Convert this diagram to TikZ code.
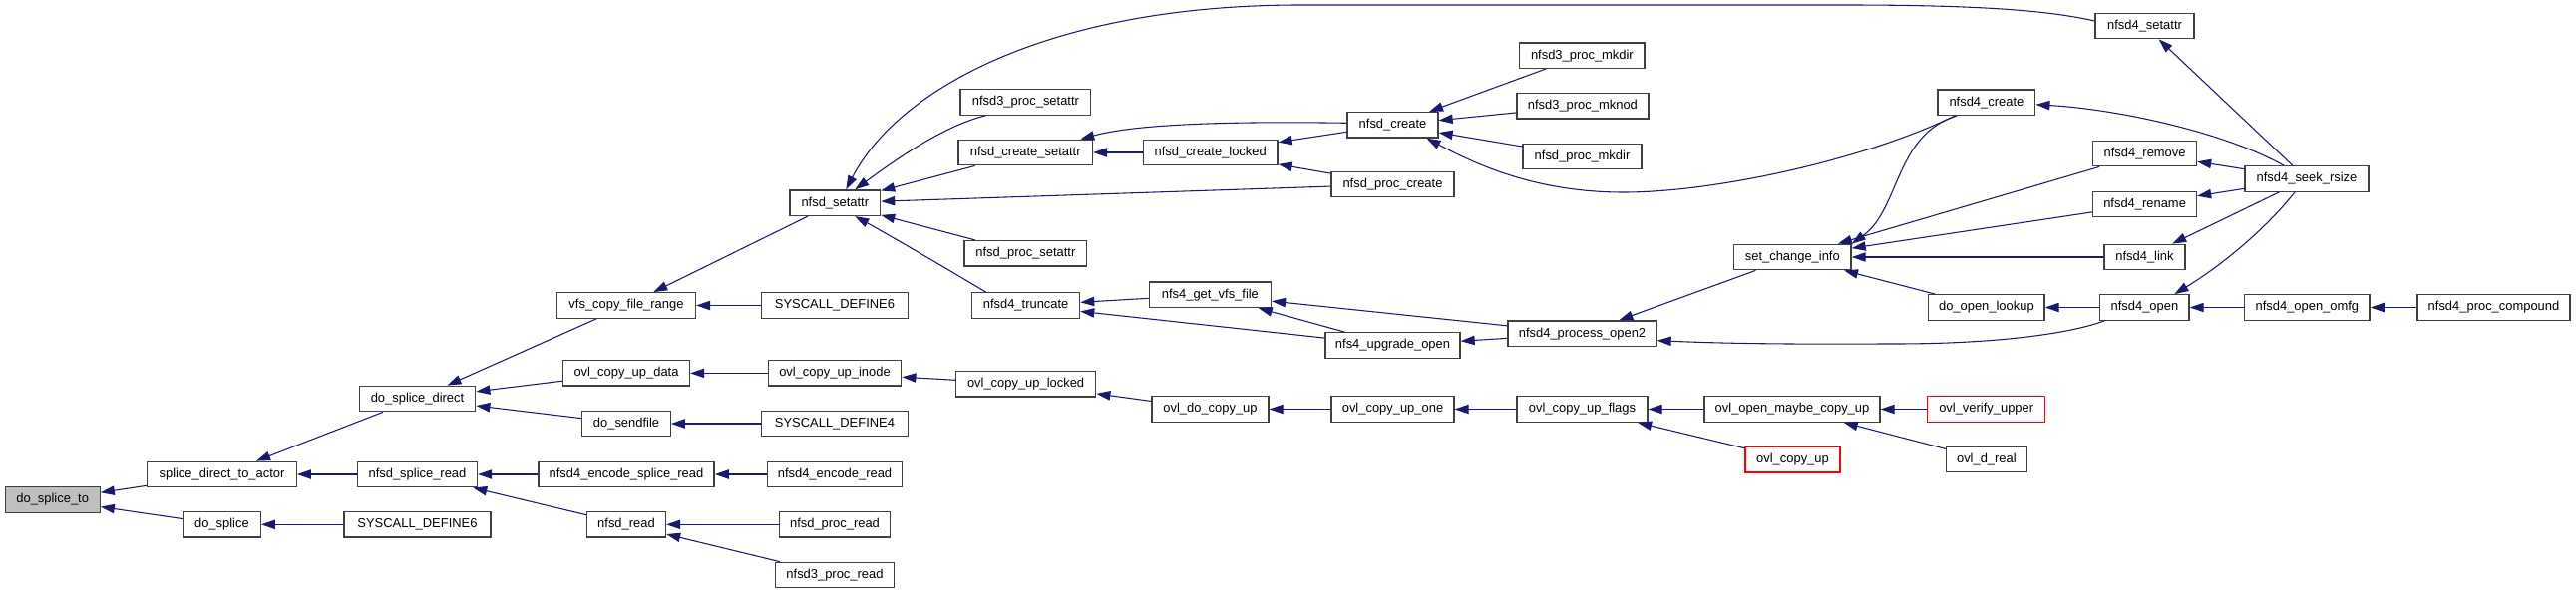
\documentclass[tikz,border=0pt]{standalone}
\usepackage{fontspec}
\setmainfont{Liberation Sans}
\usetikzlibrary{arrows.meta,calc}
\definecolor{edgeblue}{HTML}{191970}
\definecolor{rootgray}{HTML}{BFBFBF}
\definecolor{boxline}{HTML}{404040}
\newcommand{\fnode}[5][]{\node[fn,#1,minimum width=#4*0.75pt] (#2) at (#3) {#5};}
\begin{document}
\begin{tikzpicture}[x=0.75pt,y=-0.75pt,
  fn/.style={draw=boxline, line width=1pt, fill=white, inner sep=0pt,
    minimum height=19.1pt, font=\fontsize{9.7pt}{11pt}\selectfont, text=black},
  rootfn/.style={fill=rootgray},
  redfn/.style={draw=red},
  edge/.style={draw=edgeblue, line width=0.8pt, {Triangle[length=10.5pt,width=7pt]}-}]
\fill[white] (0,0) rectangle (2583,596);
\useasboundingbox (0,0) rectangle (2583,596);
% column 1-3
\fnode[rootfn]{dst}{52.7,501.5}{95}{do\_splice\_to}
\fnode{sdta}{222.5,476}{149.5}{splice\_direct\_to\_actor}
\fnode{dsp}{222.4,526.3}{77.7}{do\_splice}
\fnode{dsd}{418.5,400}{116.5}{do\_splice\_direct}
\fnode{nsr}{418.5,476}{120}{nfsd\_splice\_read}
\fnode{sysB}{418.5,526.3}{147}{SYSCALL\_DEFINE6}
% column 4
\fnode{vcfr}{628,306.5}{139}{vfs\_copy\_file\_range}
\fnode{ocud}{628,374.4}{127}{ovl\_copy\_up\_data}
\fnode{dsf}{628,425}{88.4}{do\_sendfile}
\fnode{nesr}{628,476}{176.3}{nfsd4\_encode\_splice\_read}
\fnode{nrd}{628,526.3}{79}{nfsd\_read}
% column 5
\fnode{nsa}{837.3,203.7}{90.6}{nfsd\_setattr}
\fnode{sysA}{837,306.5}{146.5}{SYSCALL\_DEFINE6}
\fnode{ocui}{837,374.4}{133.5}{ovl\_copy\_up\_inode}
\fnode{sysF}{837,425}{146.5}{SYSCALL\_DEFINE4}
\fnode{ner}{837,476}{135}{nfsd4\_encode\_read}
\fnode{npr}{837,526.3}{110.7}{nfsd\_proc\_read}
\fnode{ntpr}{837,577}{118.7}{nfsd3\_proc\_read}
% column 6
\fnode{ntps}{1028.4,102.5}{130.75}{nfsd3\_proc\_setattr}
\fnode{ncs}{1028.2,153}{134.5}{nfsd\_create\_setattr}
\fnode{nps}{1028.4,254.3}{122.7}{nfsd\_proc\_setattr}
\fnode{ntr}{1028.6,306.5}{108}{nfsd4\_truncate}
\fnode{ocul}{1028.6,385.3}{140.2}{ovl\_copy\_up\_locked}
% column 7
\fnode{ncl}{1213.7,153}{134.6}{nfsd\_create\_locked}
\fnode{ngvf}{1213.4,295.7}{122}{nfs4\_get\_vfs\_file}
\fnode{odcu}{1213.5,410.5}{117}{ovl\_do\_copy\_up}
% column 8
\fnode{ncr}{1396.5,125.3}{91}{nfsd\_create}
\fnode{npc}{1396.5,185}{123}{nfsd\_proc\_create}
\fnode{nuo}{1396.5,346.5}{135}{nfs4\_upgrade\_open}
\fnode{ocuo}{1396.5,410.5}{123}{ovl\_copy\_up\_one}
% column 9
\fnode{ntmkdir}{1586.4,55.7}{125.3}{nfsd3\_proc\_mkdir}
\fnode{ntmknod}{1586.9,106.3}{132.1}{nfsd3\_proc\_mknod}
\fnode{npmkdir}{1586.5,157}{119}{nfsd\_proc\_mkdir}
\fnode{npot}{1586.5,334.7}{149}{nfsd4\_process\_open2}
\fnode{ocuf}{1586.5,410.5}{131}{ovl\_copy\_up\_flags}
% column 10
\fnode{sci}{1797.3,258}{117.5}{set\_change\_info}
\fnode{omcu}{1797,410.5}{176}{ovl\_open\_maybe\_copy\_up}
\fnode[redfn]{ocu}{1797.5,461.3}{95}{ovl\_copy\_up}
% column 11
\fnode{nfcr}{1991.9,102.8}{97.7}{nfsd4\_create}
\fnode{dol}{1991.9,308.5}{116.3}{do\_open\_lookup}
\fnode[redfn]{ovu}{1991.7,410.5}{118}{ovl\_verify\_upper}
\fnode{odr}{1991.9,461}{80.8}{ovl\_d\_real}
% column 12
\fnode{nfsa}{2150.5,26}{99}{nfsd4\_setattr}
\fnode{nfrm}{2150.6,154}{103.8}{nfsd4\_remove}
\fnode{nfrn}{2150.6,205}{103.8}{nfsd4\_rename}
\fnode{nfln}{2150.5,258}{81}{nfsd4\_link}
\fnode{nfop}{2150.4,308.5}{89.3}{nfsd4\_open}
% column 13-14
\fnode{nfsr}{2313,179.5}{124}{nfsd4\_seek\_rsize}
\fnode{nfoo}{2313.4,308.5}{125.3}{nfsd4\_open\_omfg}
\fnode{nfpc}{2500.5,308.5}{153}{nfsd4\_proc\_compound}

% edges (arrow head at the callee)
\draw[edge] (dst) -- (sdta);
\draw[edge] (dst) -- (dsp);
\draw[edge] (sdta) -- (dsd);
\draw[edge] (sdta) -- (nsr);
\draw[edge] (dsp) -- (sysB);
\draw[edge] (dsd) -- (vcfr);
\draw[edge] (dsd) -- (ocud);
\draw[edge] (dsd) -- (dsf);
\draw[edge] (nsr) -- (nesr);
\draw[edge] (nsr) -- (nrd);
\draw[edge] (vcfr) -- (nsa);
\draw[edge] (vcfr) -- (sysA);
\draw[edge] (ocud) -- (ocui);
\draw[edge] (dsf) -- (sysF);
\draw[edge] (nesr) -- (ner);
\draw[edge] (nrd) -- (npr);
\draw[edge] (nrd) -- (ntpr);
\draw[edge] ($(nsa.north)+(11,0)$) .. controls (900,90) and (1050,6) .. (1300,5) -- (1850,5) .. controls (2000,5) and (2060,12) .. ($(nfsa.west)+(0,-5)$);
\draw[edge] ($(nsa.north)+(20,0)$) .. controls (905,155) and (950,125) .. ($(ntps.south)+(-40,0)$);
\draw[edge] (nsa) -- (ncs);
\draw[edge] (nsa) -- (npc);
\draw[edge] (nsa) -- (nps);
\draw[edge] ($(nsa.south)+(20,0)$) .. controls (890,235) and (950,270) .. ($(ntr.north)+(-40,0)$);
\draw[edge] (ncs) -- (ncl);
\draw[edge] ($(ncs.north)+(55,0)$) .. controls (1130,127) and (1200,121) .. ($(ncr.west)+(0,-2)$);
\draw[edge] (ncl) -- (ncr);
\draw[edge] (ncl) -- (npc);
\draw[edge] (ncr) -- (ntmkdir);
\draw[edge] (ncr) -- (ntmknod);
\draw[edge] (ncr) -- (npmkdir);
\draw[edge] ($(ncr.south)+(34,0)$) .. controls (1480,165) and (1540,193) .. (1628,193) .. controls (1720,193) and (1870,160) .. ($(nfcr.south)+(-32,0)$);
\draw[edge] (ntr) -- (ngvf);
\draw[edge] (ntr) -- (nuo);
\draw[edge] (ngvf) -- (npot);
\draw[edge] (ngvf) -- (nuo);
\draw[edge] (nuo) -- (npot);
\draw[edge] (npot) -- (sci);
\draw[edge] ($(npot.east)+(0,7)$) .. controls (1760,346) and (1850,345) .. (1900,345) .. controls (2000,345) and (2075,335) .. ($(nfop.south west)+(5,0)$);
\draw[edge] (ocui) -- (ocul);
\draw[edge] (ocul) -- (odcu);
\draw[edge] (odcu) -- (ocuo);
\draw[edge] (ocuo) -- (ocuf);
\draw[edge] (ocuf) -- (omcu);
\draw[edge] (ocuf) -- (ocu);
\draw[edge] (omcu) -- (ovu);
\draw[edge] (omcu) -- (odr);
\draw[edge] (sci.north east) .. controls (1905,210) and (1900,135) .. ($(nfcr.south)+(-30,0)$);
\draw[edge] (sci) -- (nfrm);
\draw[edge] (sci) -- (nfrn);
\draw[edge] (sci) -- (nfln);
\draw[edge] (sci) -- (dol);
\draw[edge] (dol) -- (nfop);
\draw[edge] ($(nfop.north)+(30,0)$) .. controls (2225,268) and (2270,232) .. ($(nfsr.south)+(-12,0)$);
\draw[edge] (nfop) -- (nfoo);
\draw[edge] (nfoo) -- (nfpc);
\draw[edge] (nfsa) -- (nfsr);
\draw[edge] ($(nfcr.east)+(0,2)$) .. controls (2130,110) and (2235,135) .. ($(nfsr.north)+(-23,0)$);
\draw[edge] (nfrm) -- (nfsr);
\draw[edge] (nfrn) -- (nfsr);
\draw[edge] (nfln) -- (nfsr);
\end{tikzpicture}
\end{document}
